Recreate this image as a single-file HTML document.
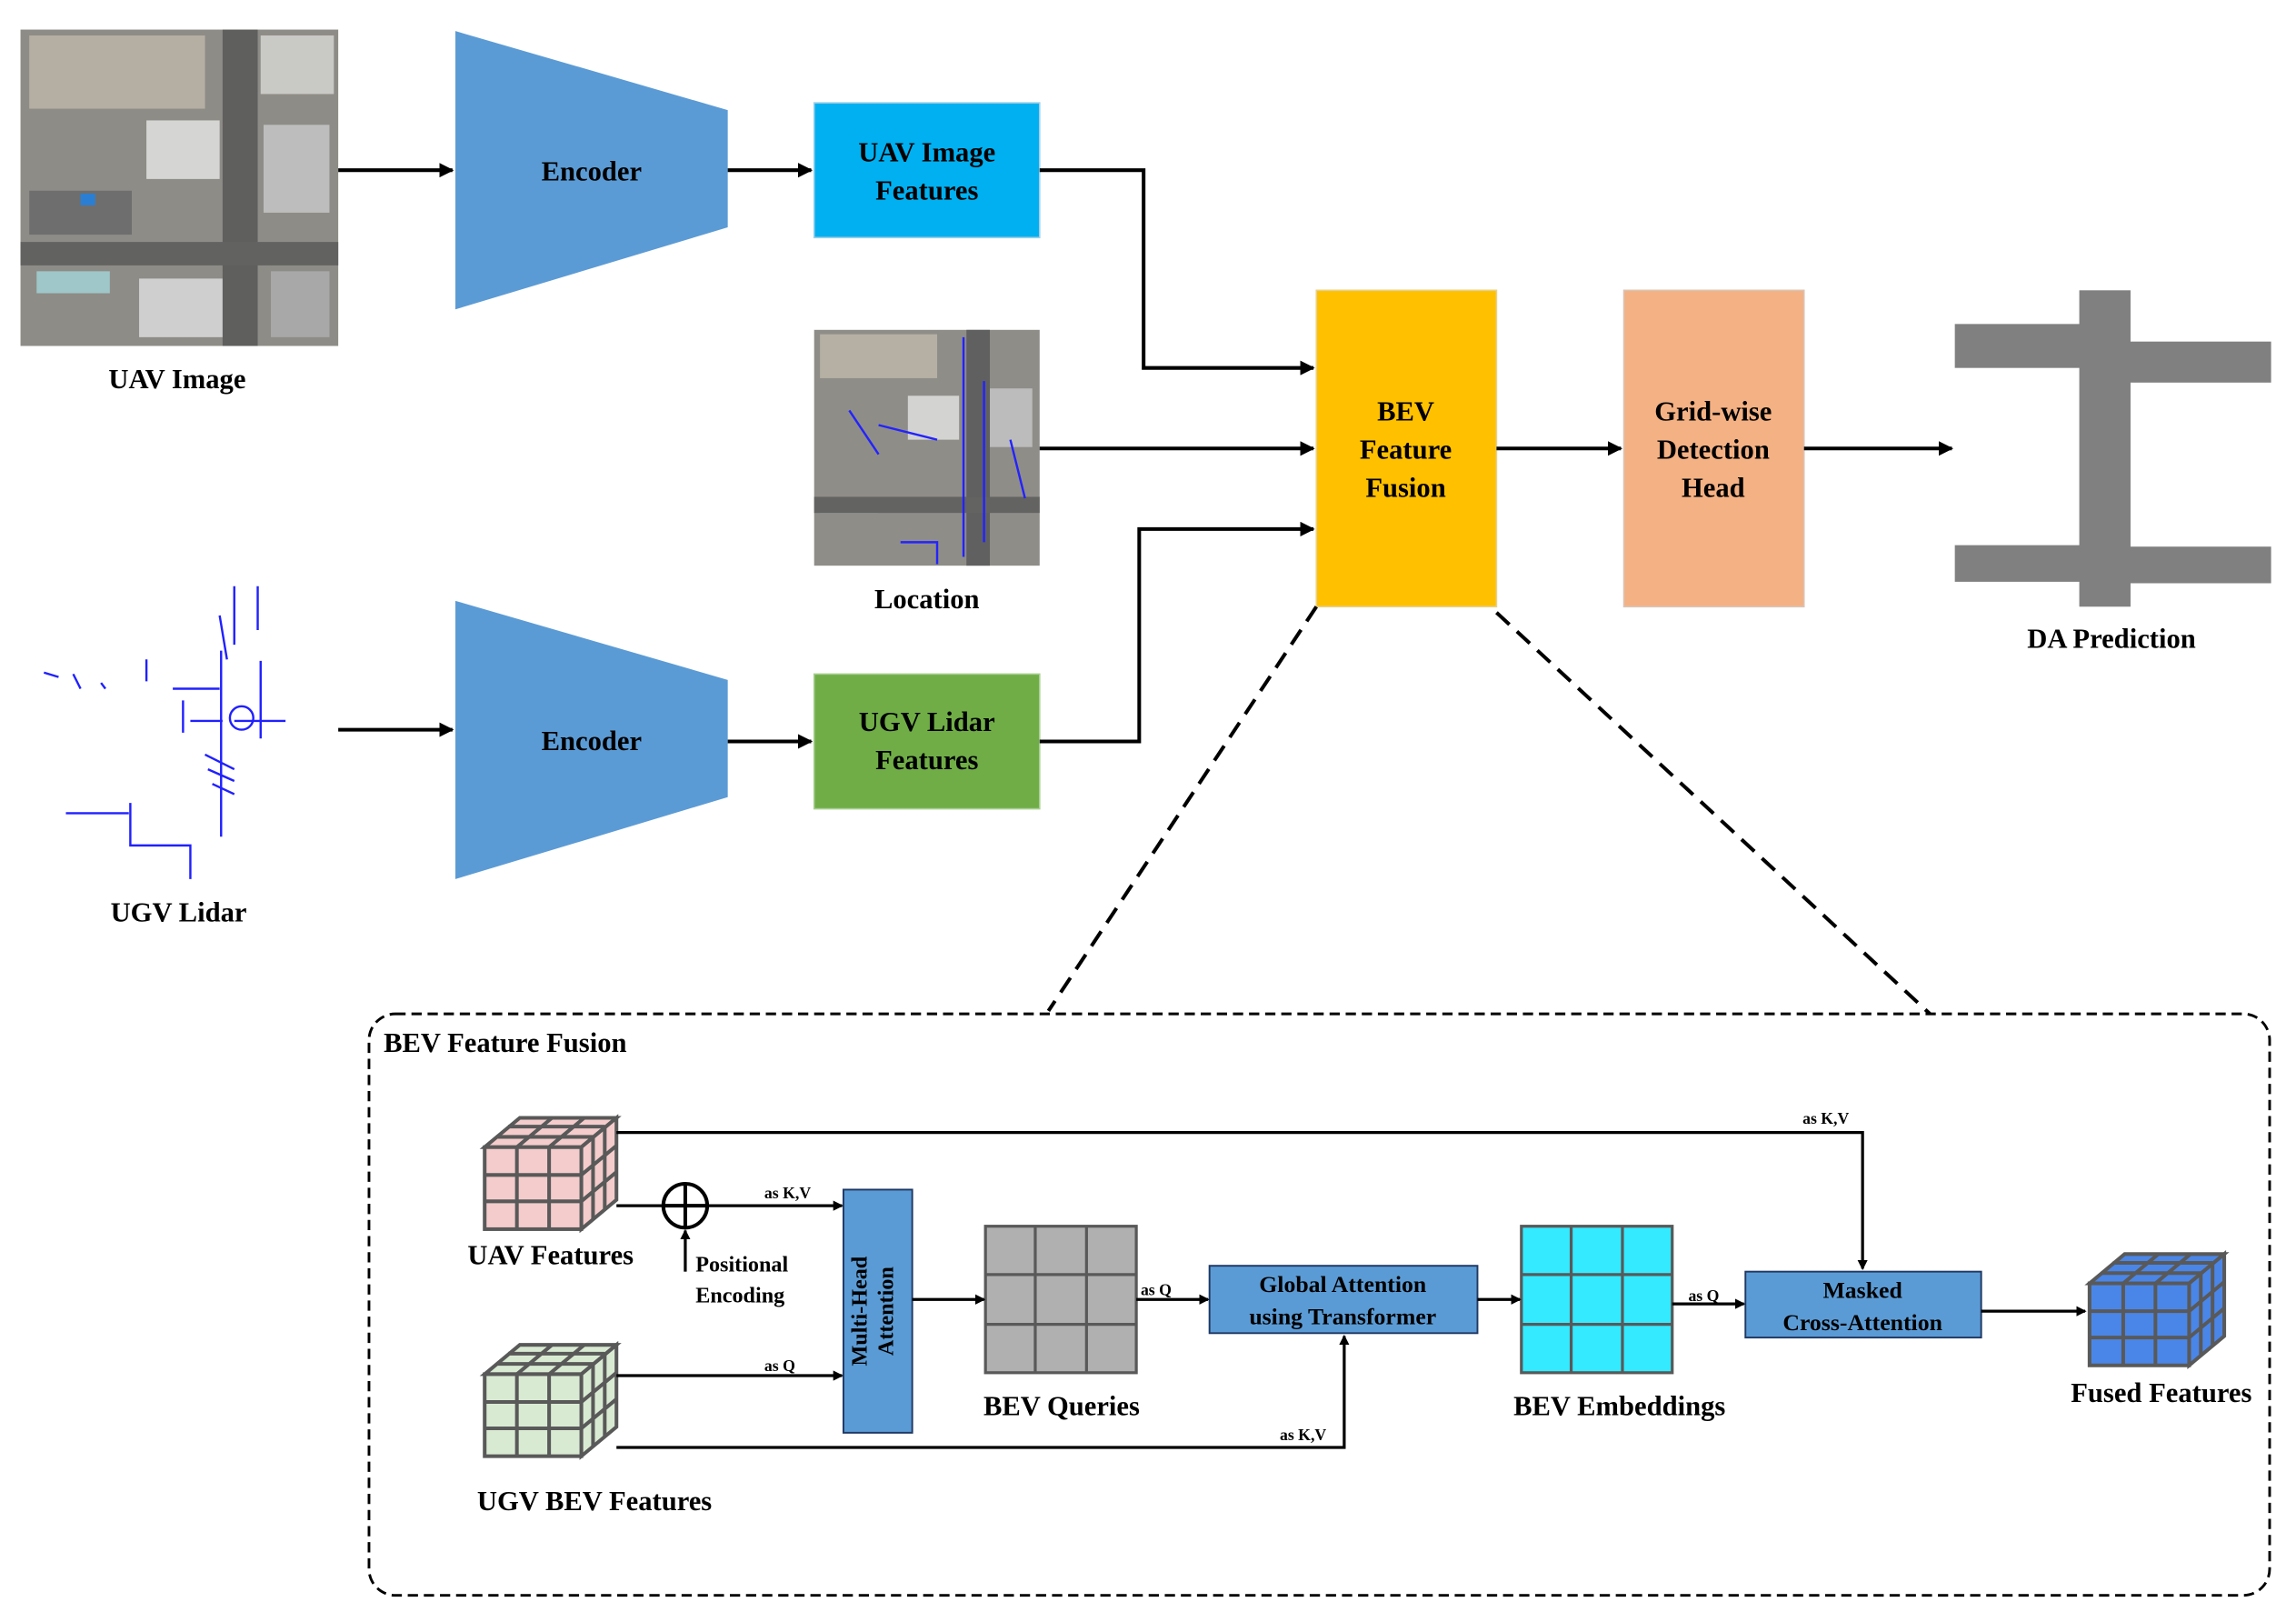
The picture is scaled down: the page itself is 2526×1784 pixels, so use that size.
<!DOCTYPE html>
<html><head><meta charset="utf-8"><style>
html,body{margin:0;padding:0;background:#fff;}
svg{display:block;font-family:"Liberation Serif","DejaVu Serif",serif;}
svg text{font-family:"Liberation Serif","DejaVu Serif",serif !important;font-weight:bold;fill:#000;}
</style></head><body>
<svg width="2526" height="1784" viewBox="0 0 1568 1107" xmlns="http://www.w3.org/2000/svg" font-family="Liberation Serif, serif" font-weight="bold">
<defs>
<marker id="ah" markerWidth="10" markerHeight="10" refX="9" refY="5" orient="auto" markerUnits="userSpaceOnUse"><path d="M0,0 L10,5 L0,10 z" fill="#000"/></marker>
<marker id="as" markerWidth="7" markerHeight="7" refX="6" refY="3.5" orient="auto" markerUnits="userSpaceOnUse"><path d="M0,0 L7,3.5 L0,7 z" fill="#000"/></marker>
</defs>

<!-- UAV image -->
<rect x="14" y="20" width="217" height="216" fill="#8e8c86"/>
<rect x="20" y="24" width="120" height="50" fill="#b5afa3"/>
<rect x="178" y="24" width="50" height="40" fill="#c9c9c6"/>
<rect x="100" y="82" width="50" height="40" fill="#d5d5d3"/>
<rect x="180" y="85" width="45" height="60" fill="#bdbdbd"/>
<rect x="20" y="130" width="70" height="30" fill="#6e6e6e"/>
<rect x="25" y="185" width="50" height="15" fill="#9fc7c9"/>
<rect x="95" y="190" width="60" height="40" fill="#cfcfcf"/>
<rect x="185" y="185" width="40" height="45" fill="#a8a8a8"/>
<rect x="55" y="132" width="10" height="8" fill="#2a7fd4"/>
<rect x="152" y="20" width="24" height="216" fill="#5f5f5e"/>
<rect x="14" y="165" width="217" height="16" fill="#626261"/>
<!-- Lidar -->
<g stroke="#2020ff" stroke-width="1.5" fill="none">
<path d="M151,444 V571 M178,451 V504 M89,548 V577 H130 V600 M118,470 H150 M125,478 V500 M130,492 H152 M160,492 H195"/>
<path d="M155,450 L150,420 M160,400 V440 M176,400 V430 M140,515 L160,525 M142,525 L160,533 M145,535 L160,542"/>
<circle cx="165" cy="490" r="8"/>
<path d="M45,555 H88 M100,450 V465 M30,459 L40,462 M50,460 L55,470 M69,466 L72,470"/>
</g>
<!-- Location image -->
<rect x="556" y="225" width="154" height="161" fill="#8f8d88"/>
<rect x="560" y="228" width="80" height="30" fill="#b6b0a4"/>
<rect x="620" y="270" width="35" height="30" fill="#d3d3d1"/>
<rect x="665" y="265" width="40" height="40" fill="#bcbcbc"/>
<rect x="560" y="340" width="40" height="10" fill="#9fc7c9"/>
<rect x="660" y="225" width="16" height="161" fill="#606060"/>
<rect x="556" y="339" width="154" height="11" fill="#636362"/>
<g stroke="#2323ff" stroke-width="1.5" fill="none"><path d="M658,230 V380 M672,260 V370 M600,290 L640,300 M615,370 H640 V385 M690,300 L700,340 M580,280 L600,310"/></g>
<!-- DA prediction -->
<g fill="#808080">
<rect x="1335" y="221" width="110" height="30"/>
<rect x="1420" y="198" width="35" height="216"/>
<rect x="1440" y="233" width="111" height="28"/>
<rect x="1335" y="372" width="110" height="25"/>
<rect x="1440" y="373" width="111" height="25"/>
</g>

<!-- encoders -->
<polygon points="311,21 497,75 497,155 311,211" fill="#5b9bd5"/>
<polygon points="311,410 497,464 497,544 311,600" fill="#5b9bd5"/>
<text x="404" y="123" font-size="19" text-anchor="middle">Encoder</text>
<text x="404" y="512" font-size="19" text-anchor="middle">Encoder</text>

<rect x="556" y="70" width="154" height="92" fill="#00b0f0" stroke="#a0cfe8"/>
<text x="633" y="110" font-size="19" text-anchor="middle">UAV Image</text>
<text x="633" y="136" font-size="19" text-anchor="middle">Features</text>
<rect x="556" y="460" width="154" height="92" fill="#70ad47" stroke="#a8cf90"/>
<text x="633" y="499" font-size="19" text-anchor="middle">UGV Lidar</text>
<text x="633" y="525" font-size="19" text-anchor="middle">Features</text>

<rect x="899" y="198" width="123" height="216" fill="#ffc000" stroke="#e7d18a"/>
<text x="960" y="287" font-size="19" text-anchor="middle">BEV</text>
<text x="960" y="313" font-size="19" text-anchor="middle">Feature</text>
<text x="960" y="339" font-size="19" text-anchor="middle">Fusion</text>
<rect x="1109" y="198" width="123" height="216" fill="#f4b183" stroke="#d9c4b5"/>
<text x="1170" y="287" font-size="19" text-anchor="middle">Grid-wise</text>
<text x="1170" y="313" font-size="19" text-anchor="middle">Detection</text>
<text x="1170" y="339" font-size="19" text-anchor="middle">Head</text>

<text x="121" y="265" font-size="19" text-anchor="middle">UAV Image</text>
<text x="122" y="629" font-size="19" text-anchor="middle">UGV Lidar</text>
<text x="633" y="415" font-size="19" text-anchor="middle">Location</text>
<text x="1442" y="442" font-size="19" text-anchor="middle">DA Prediction</text>

<g stroke="#000" stroke-width="2.5" fill="none">
<path d="M231,116 H309" marker-end="url(#ah)"/>
<path d="M231,498 H309" marker-end="url(#ah)"/>
<path d="M497,116 H554" marker-end="url(#ah)"/>
<path d="M497,506 H554" marker-end="url(#ah)"/>
<path d="M710,116 H781 V251 H897" marker-end="url(#ah)"/>
<path d="M710,306 H897" marker-end="url(#ah)"/>
<path d="M710,506 H778 V361 H897" marker-end="url(#ah)"/>
<path d="M1022,306 H1107" marker-end="url(#ah)"/>
<path d="M1232,306 H1333" marker-end="url(#ah)"/>
</g>
<g stroke="#000" stroke-width="2.5" stroke-dasharray="12,7" fill="none">
<path d="M899,414 L716,690"/>
<path d="M1022,418 L1318,692"/>
</g>
<rect x="252" y="692" width="1298" height="397" rx="18" fill="none" stroke="#000" stroke-width="1.8" stroke-dasharray="7,4"/>
<text x="262" y="718" font-size="19">BEV Feature Fusion</text>

<!-- cubes -->
<g stroke="#595959" stroke-width="2.5">
<g fill="#f4cccc">
<polygon points="331,783 355,763 421,763 397,783"/>
<polygon points="397,783 421,763 421,819 397,839"/>
<rect x="331" y="783" width="66" height="56"/>
<path d="M353,783 V839 M375,783 V839 M331,802 H397 M331,820 H397 M339,776 H405 M347,769 H413 M353,783 L377,763 M375,783 L399,763 M405,776 V832 M413,769 V826 M397,802 L421,782 M397,820 L421,800" fill="none"/>
</g>
<g fill="#d9ead3">
<polygon points="331,938 355,918 421,918 397,938"/>
<polygon points="397,938 421,918 421,974 397,994"/>
<rect x="331" y="938" width="66" height="56"/>
<path d="M353,938 V994 M375,938 V994 M331,957 H397 M331,975 H397 M339,931 H405 M347,924 H413 M353,938 L377,918 M375,938 L399,918 M405,931 V987 M413,924 V981 M397,957 L421,937 M397,975 L421,955" fill="none"/>
</g>
<g fill="#4a86e8">
<polygon points="1427,876 1451,856 1519,856 1495,876"/>
<polygon points="1495,876 1519,856 1519,912 1495,932"/>
<rect x="1427" y="876" width="68" height="56"/>
<path d="M1450,876 V932 M1472,876 V932 M1427,895 H1495 M1427,913 H1495 M1435,869 H1503 M1443,862 H1511 M1450,876 L1474,856 M1472,876 L1496,856 M1503,869 V925 M1511,862 V919 M1495,895 L1519,875 M1495,913 L1519,893" fill="none"/>
</g>
</g>
<text x="376" y="863" font-size="19" text-anchor="middle">UAV Features</text>
<text x="406" y="1031" font-size="19" text-anchor="middle">UGV BEV Features</text>
<text x="1476" y="957" font-size="19" text-anchor="middle">Fused Features</text>

<!-- grids -->
<g stroke="#595959" stroke-width="2">
<rect x="673" y="837" width="103" height="100" fill="#b0b0b0"/>
<path d="M707,837 V937 M742,837 V937 M673,870 H776 M673,904 H776" fill="none"/>
<rect x="1039" y="837" width="103" height="100" fill="#33eaff"/>
<path d="M1073,837 V937 M1108,837 V937 M1039,870 H1142 M1039,904 H1142" fill="none"/>
</g>
<text x="725" y="966" font-size="19" text-anchor="middle">BEV Queries</text>
<text x="1106" y="966" font-size="19" text-anchor="middle">BEV Embeddings</text>

<rect x="576" y="812" width="47" height="166" fill="#5b9bd5" stroke="#1f3864" stroke-width="1.2"/>
<text transform="translate(592,895) rotate(-90)" font-size="15" text-anchor="middle">Multi-Head</text>
<text transform="translate(610,895) rotate(-90)" font-size="15" text-anchor="middle">Attention</text>
<rect x="826" y="864" width="183" height="46" fill="#5b9bd5" stroke="#1f3864" stroke-width="1.2"/>
<text x="917" y="882" font-size="16" text-anchor="middle">Global Attention</text>
<text x="917" y="904" font-size="16" text-anchor="middle">using Transformer</text>
<rect x="1192" y="868" width="161" height="45" fill="#5b9bd5" stroke="#1f3864" stroke-width="1.2"/>
<text x="1272" y="886" font-size="16" text-anchor="middle">Masked</text>
<text x="1272" y="908" font-size="16" text-anchor="middle">Cross-Attention</text>

<circle cx="468" cy="823" r="15" fill="none" stroke="#000" stroke-width="2.5"/>
<path d="M453,823 H483 M468,808 V838" stroke="#000" stroke-width="2.5"/>
<text x="475" y="868" font-size="15">Positional</text>
<text x="475" y="889" font-size="15">Encoding</text>

<g stroke="#000" stroke-width="2" fill="none">
<path d="M421,773 H1272 V866" marker-end="url(#as)"/>
<path d="M421,823 H453"/>
<path d="M483,823 H575" marker-end="url(#as)"/>
<path d="M468,868 V840" marker-end="url(#as)"/>
<path d="M421,939 H575" marker-end="url(#as)"/>
<path d="M421,988 H918 V912" marker-end="url(#as)"/>
<path d="M623,887 H672" marker-end="url(#as)"/>
<path d="M776,887 H825" marker-end="url(#as)"/>
<path d="M1009,887 H1038" marker-end="url(#as)"/>
<path d="M1142,890 H1191" marker-end="url(#as)"/>
<path d="M1353,895 H1424" marker-end="url(#as)"/>
</g>
<g font-size="11">
<text x="522" y="818">as K,V</text>
<text x="522" y="936">as Q</text>
<text x="779" y="884">as Q</text>
<text x="1153" y="888">as Q</text>
<text x="1231" y="767">as K,V</text>
<text x="874" y="983">as K,V</text>
</g>
</svg>
</body></html>
